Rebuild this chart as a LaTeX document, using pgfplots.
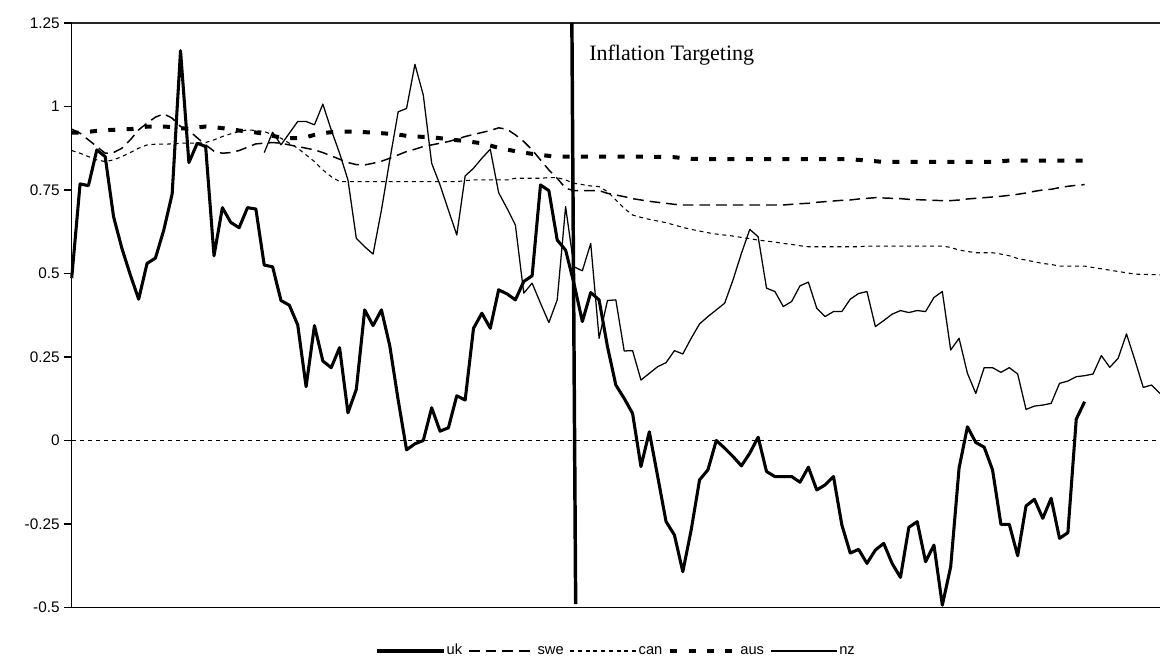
\documentclass[border=0pt]{standalone}
\usepackage{pgfplots}
\pgfplotsset{compat=1.18}
\usepackage{fontspec}
\setmainfont{Liberation Sans}
\newfontfamily\seriffont{Liberation Serif}
\begin{document}
\begin{tikzpicture}
\useasboundingbox (0,0) rectangle (870pt,497.25pt);
\begin{axis}[
  at={(53.775pt,41.625pt)}, anchor=south west,
  scale only axis, width=816.2pt, height=438.4pt,
  xmin=0, xmax=130, ymin=-0.5, ymax=1.25,
  xtick=\empty,
  ytick={-0.5,-0.25,0,0.25,0.5,0.75,1,1.25},
  yticklabels={-0.5,-0.25,0,0.25,0.5,0.75,1,1.25},
  ytick pos=left,
  tick align=outside, major tick length=5.5pt,
  ytick style={black, line width=0.9pt},
  y tick label style={font=\fontsize{11.5}{13}\selectfont, anchor=east, xshift=0pt},
  axis line style={draw=none},
  clip=false,
  legend columns=-1,
  legend style={at={(0.5,-0.0744)}, anchor=center, draw=none, fill=none,
    font=\fontsize{11}{12}\selectfont, inner sep=0pt,
    /tikz/every even column/.append style={column sep=3.5pt},
    nodes={inner sep=1pt, text height=8pt, text depth=2pt}},
  legend image code/.code={\draw[#1] (0pt,0pt) -- (50pt,0pt);},
]
\draw[black, line width=1.1pt] (rel axis cs:0,1) -- (rel axis cs:0,0) -- (rel axis cs:1,0);
\draw[black!85, line width=1.1pt] (rel axis cs:0,1) -- (rel axis cs:1,1);

% uk
\addplot[black, line width=2.3pt, line join=round] coordinates {
(0,0.486) (1,0.768) (2,0.763) (3,0.870) (4,0.850) (5,0.670) (6,0.575) (7,0.496) (8,0.423) (9,0.530)
(10,0.546) (11,0.630) (12,0.738) (13,1.167) (14,0.832) (15,0.890) (16,0.880) (17,0.553) (18,0.697) (19,0.653)
(20,0.637) (21,0.697) (22,0.693) (23,0.525) (24,0.520) (25,0.419) (26,0.405) (27,0.346) (28,0.161) (29,0.344)
(30,0.238) (31,0.218) (32,0.278) (33,0.083) (34,0.153) (35,0.391) (36,0.344) (37,0.391) (38,0.283) (39,0.121)
(40,-0.028) (41,-0.010) (42,0.000) (43,0.098) (44,0.028) (45,0.038) (46,0.134) (47,0.121) (48,0.336) (49,0.381)
(50,0.336) (51,0.451) (52,0.439) (53,0.421) (54,0.476) (55,0.493) (56,0.765) (57,0.748) (58,0.600) (59,0.570)
(60,0.470) (61,0.356) (62,0.443) (63,0.421) (64,0.281) (65,0.166) (66,0.126) (67,0.081) (68,-0.078) (69,0.026)
(70,-0.108) (71,-0.243) (72,-0.283) (73,-0.393) (74,-0.268) (75,-0.118) (76,-0.088) (77,0.000) (78,-0.023) (79,-0.048)
(80,-0.076) (81,-0.038) (82,0.010) (83,-0.093) (84,-0.108) (85,-0.108) (86,-0.108) (87,-0.125) (88,-0.080) (89,-0.148)
(90,-0.133) (91,-0.108) (92,-0.253) (93,-0.337) (94,-0.326) (95,-0.368) (96,-0.328) (97,-0.308) (98,-0.368) (99,-0.410)
(100,-0.260) (101,-0.243) (102,-0.363) (103,-0.313) (104,-0.493) (105,-0.378) (106,-0.083) (107,0.041) (108,-0.006) (109,-0.020)
(110,-0.088) (111,-0.251) (112,-0.251) (113,-0.345) (114,-0.196) (115,-0.176) (116,-0.233) (117,-0.173) (118,-0.293) (119,-0.276)
(120,0.064) (121,0.116)
};
\addlegendentry{uk}

% swe
\addplot[black, line width=1.1pt, dash pattern=on 8pt off 4.5pt] coordinates {
(0,0.932) (1,0.920) (2,0.900) (3,0.880) (4,0.860) (5,0.862) (6,0.875) (7,0.900) (8,0.930) (9,0.950)
(10,0.968) (11,0.978) (12,0.965) (13,0.940) (14,0.928) (15,0.906) (16,0.885) (17,0.866) (18,0.860) (19,0.862)
(20,0.868) (21,0.878) (22,0.888) (23,0.890) (24,0.892) (25,0.890) (26,0.885) (27,0.880) (28,0.875) (29,0.870)
(30,0.862) (31,0.852) (32,0.842) (33,0.832) (34,0.826) (35,0.825) (36,0.830) (37,0.836) (38,0.845) (39,0.855)
(40,0.865) (41,0.872) (42,0.880) (43,0.885) (44,0.890) (45,0.895) (46,0.902) (47,0.910) (48,0.916) (49,0.922)
(50,0.928) (51,0.936) (52,0.932) (53,0.915) (54,0.895) (55,0.870) (56,0.840) (57,0.810) (58,0.785) (59,0.755)
(60,0.748) (61,0.748) (62,0.748) (63,0.748) (64,0.740) (65,0.735) (66,0.730) (67,0.724) (68,0.720) (69,0.716)
(70,0.713) (71,0.710) (72,0.707) (73,0.705) (76,0.705) (80,0.705) (84,0.705) (85,0.705) (86,0.707) (87,0.709)
(88,0.710) (89,0.713) (90,0.715) (91,0.717) (92,0.719) (93,0.720) (94,0.723) (95,0.725) (96,0.727) (97,0.726)
(98,0.725) (99,0.724) (100,0.722) (101,0.721) (102,0.720) (103,0.719) (104,0.718) (105,0.718) (106,0.720) (107,0.723)
(108,0.725) (109,0.727) (110,0.729) (111,0.731) (112,0.734) (113,0.737) (114,0.741) (115,0.746) (116,0.750) (117,0.752)
(118,0.757) (119,0.761) (120,0.764) (121,0.766)
};
\addlegendentry{swe}

% can
\addplot[black, line width=0.8pt, dash pattern=on 3pt off 2.8pt] coordinates {
(0,0.868) (1,0.860) (2,0.850) (3,0.840) (4,0.835) (5,0.840) (6,0.850) (7,0.862) (8,0.875) (9,0.885)
(10,0.887) (11,0.887) (12,0.888) (13,0.890) (14,0.890) (15,0.890) (16,0.892) (17,0.900) (18,0.910) (19,0.918)
(20,0.925) (21,0.930) (22,0.928) (23,0.925) (24,0.915) (25,0.905) (26,0.890) (27,0.875) (28,0.855) (29,0.835)
(30,0.810) (31,0.790) (32,0.775) (33,0.775) (36,0.775) (40,0.775) (44,0.775) (46,0.775) (47,0.778) (48,0.780)
(50,0.780) (52,0.780) (53,0.785) (55,0.785) (56,0.785) (57,0.787) (58,0.787) (59,0.780) (60,0.770) (61,0.766)
(62,0.762) (63,0.760) (64,0.745) (65,0.720) (66,0.695) (67,0.675) (68,0.668) (69,0.662) (70,0.657) (71,0.652)
(72,0.645) (73,0.638) (74,0.632) (75,0.627) (76,0.622) (77,0.618) (78,0.615) (79,0.612) (80,0.608) (81,0.604)
(82,0.600) (83,0.597) (84,0.594) (85,0.590) (86,0.587) (87,0.583) (88,0.580) (91,0.580) (94,0.580) (95,0.582)
(100,0.582) (104,0.582) (105,0.578) (106,0.570) (107,0.566) (108,0.562) (110,0.562) (111,0.558) (112,0.553) (113,0.545)
(114,0.540) (115,0.535) (116,0.530) (117,0.527) (118,0.522) (121,0.522) (122,0.518) (123,0.514) (124,0.510) (125,0.506)
(126,0.502) (127,0.498) (130,0.496)
};
\addlegendentry{can}

% aus
\addplot[black, line width=3pt, dash pattern=on 5.25pt off 8.5pt] coordinates {
(0,0.922) (1,0.922) (2,0.924) (3,0.927) (4,0.929) (5,0.930) (6,0.932) (7,0.932) (8,0.935) (9,0.940)
(10,0.940) (11,0.940) (12,0.938) (13,0.935) (14,0.933) (15,0.937) (16,0.940) (17,0.938) (18,0.935) (19,0.932)
(20,0.928) (21,0.925) (22,0.922) (23,0.918) (24,0.912) (25,0.907) (26,0.905) (27,0.905) (28,0.908) (29,0.915)
(30,0.920) (31,0.923) (32,0.925) (33,0.925) (34,0.925) (35,0.923) (36,0.922) (37,0.920) (38,0.918) (39,0.916)
(40,0.912) (41,0.910) (42,0.909) (43,0.908) (44,0.905) (45,0.902) (46,0.899) (47,0.897) (48,0.893) (49,0.890)
(50,0.883) (51,0.876) (52,0.871) (53,0.866) (54,0.862) (55,0.858) (56,0.855) (57,0.852) (58,0.850) (62,0.850)
(66,0.850) (70,0.849) (72,0.848) (74,0.843) (80,0.842) (86,0.842) (93,0.842) (95,0.838) (97,0.834) (104,0.834)
(110,0.834) (111,0.836) (112,0.838) (116,0.838) (121,0.838)
};
\addlegendentry{aus}

% nz
\addplot[black, line width=0.95pt, line join=round] coordinates {
(23,0.862) (24,0.923) (25,0.885) (26,0.920) (27,0.955) (28,0.955) (29,0.945)
(30,1.007) (31,0.930) (32,0.860) (33,0.780) (34,0.605) (35,0.580) (36,0.558) (37,0.690) (38,0.840) (39,0.984)
(40,0.994) (41,1.126) (42,1.034) (43,0.830) (44,0.765) (45,0.690) (46,0.615) (47,0.792) (48,0.815) (49,0.845)
(50,0.872) (51,0.742) (52,0.695) (53,0.645) (54,0.441) (55,0.471) (56,0.411) (57,0.353) (58,0.421) (59,0.700)
(60,0.520) (61,0.508) (62,0.590) (63,0.306) (64,0.419) (65,0.421) (66,0.268) (67,0.269) (68,0.181) (69,0.201)
(70,0.221) (71,0.233) (72,0.269) (73,0.259) (74,0.306) (75,0.349) (76,0.371) (77,0.391) (78,0.411) (79,0.481)
(80,0.560) (81,0.632) (82,0.610) (83,0.456) (84,0.446) (85,0.401) (86,0.416) (87,0.463) (88,0.474) (89,0.396)
(90,0.371) (91,0.386) (92,0.386) (93,0.423) (94,0.440) (95,0.446) (96,0.341) (97,0.359) (98,0.378) (99,0.389)
(100,0.383) (101,0.389) (102,0.386) (103,0.428) (104,0.446) (105,0.271) (106,0.306) (107,0.201) (108,0.141) (109,0.218)
(110,0.218) (111,0.204) (112,0.218) (113,0.199) (114,0.093) (115,0.103) (116,0.106) (117,0.111) (118,0.171) (119,0.178)
(120,0.191) (121,0.194) (122,0.199) (123,0.254) (124,0.219) (125,0.246) (126,0.319) (127,0.241) (128,0.159) (129,0.166)
(130,0.141)
};
\addlegendentry{nz}

% zero line
\addplot[black, line width=0.8pt, dash pattern=on 3pt off 3pt, forget plot] coordinates {(0,0) (130,0)};
% inflation targeting line
\addplot[black, line width=2.6pt, forget plot] coordinates {(59.75,1.25) (60.2,-0.49)};

\node[anchor=west, inner sep=0pt, font=\seriffont\fontsize{16.5}{18}\selectfont] at (axis cs:61.8,1.154) {Inflation Targeting};
\end{axis}
\end{tikzpicture}
\end{document}
